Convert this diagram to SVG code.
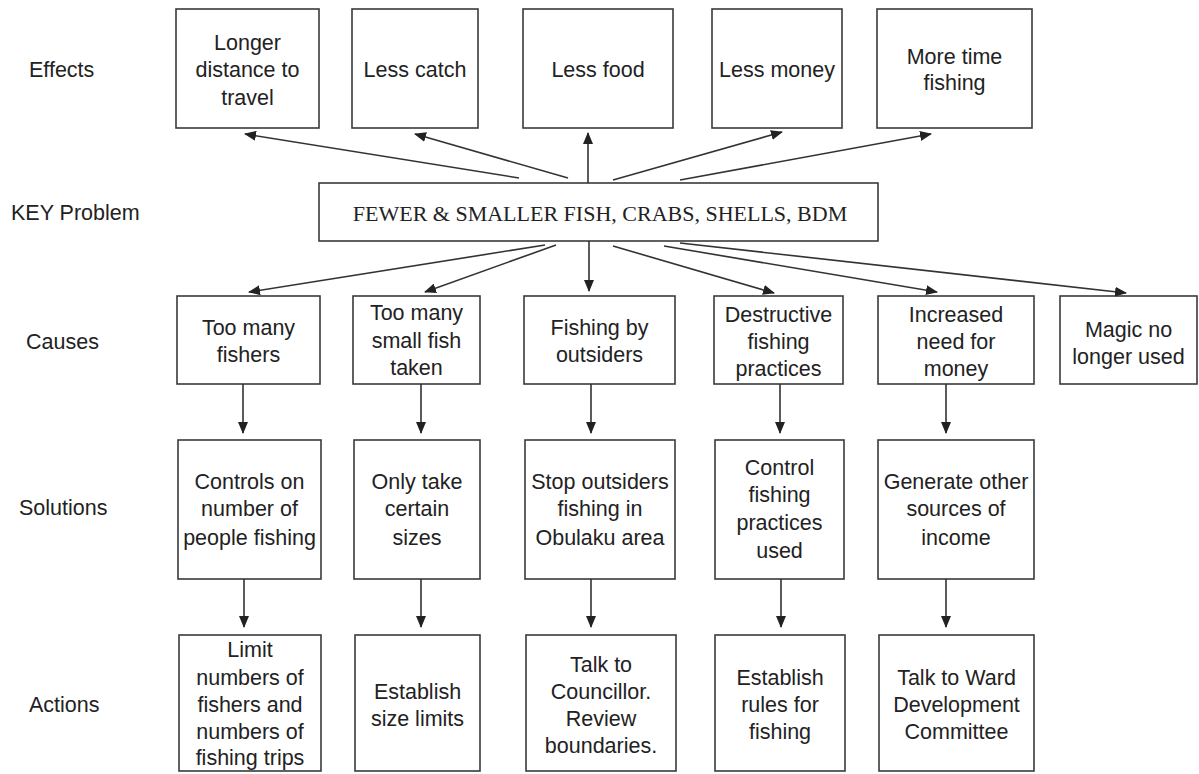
<svg xmlns="http://www.w3.org/2000/svg" width="1199" height="774" viewBox="0 0 1199 774">
<style>
.bg{fill:#fff}
.box{fill:#fff;stroke:#3a3a3a;stroke-width:1.6}
.t{font-family:"Liberation Sans",Arial,sans-serif;font-size:21.5px;fill:#222;text-anchor:middle;dominant-baseline:central}
.lab{font-family:"Liberation Sans",Arial,sans-serif;font-size:21.5px;fill:#222;dominant-baseline:central}
.key{font-family:"Liberation Serif","Times New Roman",serif;font-size:22px;fill:#222;text-anchor:middle;dominant-baseline:central}
.c{stroke:#333;stroke-width:1.6;fill:none;marker-end:url(#ah)}
</style>
<defs>
<marker id="ah" markerUnits="userSpaceOnUse" markerWidth="12" markerHeight="10" refX="11" refY="5" orient="auto">
<path d="M0,0 L12,5 L0,10 Z" fill="#222"/>
</marker>
</defs>
<rect class="bg" x="0" y="0" width="1199" height="774"/>

<g id="labels">
<text class="lab" x="29" y="70">Effects</text>
<text class="lab" x="11" y="213">KEY Problem</text>
<text class="lab" x="26" y="342">Causes</text>
<text class="lab" x="19" y="508">Solutions</text>
<text class="lab" x="29" y="705">Actions</text>
</g>

<g id="effect1"><rect class="box" x="176" y="9" width="143" height="119"/>
<text class="t" x="247.5" y="43">Longer</text><text class="t" x="247.5" y="70">distance to</text><text class="t" x="247.5" y="98">travel</text></g>
<g id="effect2"><rect class="box" x="352" y="9" width="126" height="119"/>
<text class="t" x="415" y="70">Less catch</text></g>
<g id="effect3"><rect class="box" x="523" y="9" width="150" height="119"/>
<text class="t" x="598" y="70">Less food</text></g>
<g id="effect4"><rect class="box" x="712" y="9" width="130" height="119"/>
<text class="t" x="777" y="70">Less money</text></g>
<g id="effect5"><rect class="box" x="877" y="9" width="155" height="119"/>
<text class="t" x="954.5" y="57">More time</text><text class="t" x="954.5" y="83">fishing</text></g>

<g id="key"><rect class="box" x="319" y="183" width="559" height="58"/>
<text class="key" x="600" y="213">FEWER &amp; SMALLER FISH, CRABS, SHELLS, BDM</text></g>

<g id="cause1"><rect class="box" x="177" y="296" width="143" height="88"/>
<text class="t" x="248.5" y="328">Too many</text><text class="t" x="248.5" y="355">fishers</text></g>
<g id="cause2"><rect class="box" x="353" y="296" width="127" height="88"/>
<text class="t" x="416.5" y="313">Too many</text><text class="t" x="416.5" y="341">small fish</text><text class="t" x="416.5" y="368">taken</text></g>
<g id="cause3"><rect class="box" x="524" y="296" width="151" height="88"/>
<text class="t" x="599.5" y="328">Fishing by</text><text class="t" x="599.5" y="355">outsiders</text></g>
<g id="cause4"><rect class="box" x="714" y="296" width="129" height="88"/>
<text class="t" x="778.5" y="315">Destructive</text><text class="t" x="778.5" y="342">fishing</text><text class="t" x="778.5" y="369">practices</text></g>
<g id="cause5"><rect class="box" x="878" y="296" width="156" height="88"/>
<text class="t" x="956" y="315">Increased</text><text class="t" x="956" y="342">need for</text><text class="t" x="956" y="369">money</text></g>
<g id="cause6"><rect class="box" x="1060" y="296" width="137" height="88"/>
<text class="t" x="1128.5" y="330">Magic no</text><text class="t" x="1128.5" y="357">longer used</text></g>

<g id="solution1"><rect class="box" x="178" y="440" width="143" height="139"/>
<text class="t" x="249.5" y="482">Controls on</text><text class="t" x="249.5" y="509">number of</text><text class="t" x="249.5" y="538">people fishing</text></g>
<g id="solution2"><rect class="box" x="354" y="440" width="126" height="139"/>
<text class="t" x="417" y="482">Only take</text><text class="t" x="417" y="509">certain</text><text class="t" x="417" y="538">sizes</text></g>
<g id="solution3"><rect class="box" x="525" y="440" width="150" height="139"/>
<text class="t" x="600" y="482">Stop outsiders</text><text class="t" x="600" y="509">fishing in</text><text class="t" x="600" y="538">Obulaku area</text></g>
<g id="solution4"><rect class="box" x="715" y="440" width="129" height="139"/>
<text class="t" x="779.5" y="468">Control</text><text class="t" x="779.5" y="495">fishing</text><text class="t" x="779.5" y="523">practices</text><text class="t" x="779.5" y="551">used</text></g>
<g id="solution5"><rect class="box" x="878" y="440" width="156" height="139"/>
<text class="t" x="956" y="482">Generate other</text><text class="t" x="956" y="509">sources of</text><text class="t" x="956" y="538">income</text></g>

<g id="action1"><rect class="box" x="179" y="635" width="142" height="136"/>
<text class="t" x="250" y="650">Limit</text><text class="t" x="250" y="678">numbers of</text><text class="t" x="250" y="705">fishers and</text><text class="t" x="250" y="732">numbers of</text><text class="t" x="250" y="758">fishing trips</text></g>
<g id="action2"><rect class="box" x="355" y="635" width="125" height="136"/>
<text class="t" x="417.5" y="692">Establish</text><text class="t" x="417.5" y="719">size limits</text></g>
<g id="action3"><rect class="box" x="526" y="635" width="150" height="136"/>
<text class="t" x="601" y="665">Talk to</text><text class="t" x="601" y="692">Councillor.</text><text class="t" x="601" y="719">Review</text><text class="t" x="601" y="746">boundaries.</text></g>
<g id="action4"><rect class="box" x="715" y="635" width="130" height="136"/>
<text class="t" x="780" y="678">Establish</text><text class="t" x="780" y="705">rules for</text><text class="t" x="780" y="732">fishing</text></g>
<g id="action5"><rect class="box" x="879" y="635" width="155" height="136"/>
<text class="t" x="956.5" y="678">Talk to Ward</text><text class="t" x="956.5" y="705">Development</text><text class="t" x="956.5" y="732">Committee</text></g>

<g id="connectors">
<line class="c" x1="519" y1="178" x2="245" y2="134"/>
<line class="c" x1="568" y1="178" x2="415" y2="134"/>
<line class="c" x1="588" y1="183" x2="588" y2="133"/>
<line class="c" x1="613" y1="180" x2="782" y2="132"/>
<line class="c" x1="680" y1="180" x2="931" y2="134"/>

<line class="c" x1="545" y1="245" x2="249" y2="292"/>
<line class="c" x1="556" y1="245" x2="425" y2="292"/>
<line class="c" x1="589" y1="241" x2="589" y2="291"/>
<line class="c" x1="613" y1="246" x2="774" y2="293"/>
<line class="c" x1="664" y1="246" x2="937" y2="292"/>
<line class="c" x1="680" y1="243" x2="1126" y2="293"/>

<line class="c" x1="243" y1="384" x2="243" y2="433"/>
<line class="c" x1="421" y1="384" x2="421" y2="433"/>
<line class="c" x1="591" y1="384" x2="591" y2="433"/>
<line class="c" x1="780" y1="384" x2="780" y2="433"/>
<line class="c" x1="946" y1="384" x2="946" y2="433"/>

<line class="c" x1="244" y1="579" x2="244" y2="627"/>
<line class="c" x1="421" y1="579" x2="421" y2="627"/>
<line class="c" x1="591" y1="579" x2="591" y2="627"/>
<line class="c" x1="781" y1="579" x2="781" y2="627"/>
<line class="c" x1="946" y1="579" x2="946" y2="627"/>
</g>
</svg>
